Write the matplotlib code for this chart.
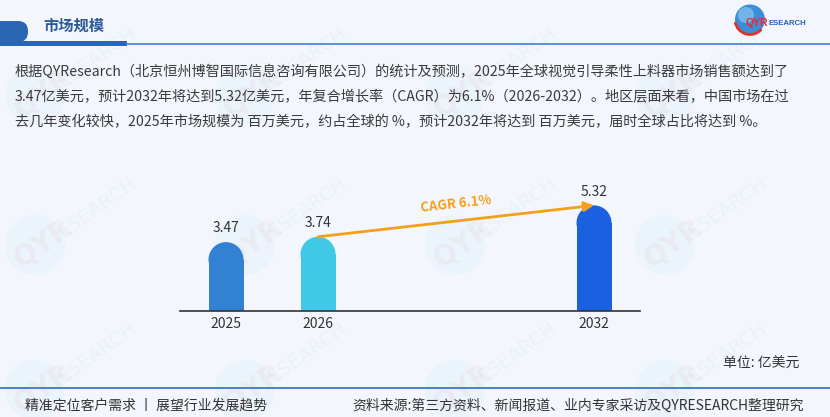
import numpy as np
import matplotlib
matplotlib.use('Agg')
import matplotlib.pyplot as plt
from matplotlib import patches

plt.rcParams['font.family'] = ['Noto Sans CJK SC', 'DejaVu Sans']

# chart data
categories = ['2025', '2026', '', '', '2032']
values = [3.47, 3.74, np.nan, np.nan, 5.32]
bar_colors = ['#3381d3', '#40c9e7', 'none', 'none', '#1a60e0']
cagr = 6.1
cagr_from = '2026'
cagr_to = '2032'
unit = '单位: 亿美元'

title = '市场规模'
para = [
    '根据QYResearch（北京恒州博智国际信息咨询有限公司）的统计及预测，2025年全球视觉引导柔性上料器市场销售额达到了',
    f'{values[0]}亿美元，预计2032年将达到{values[-1]}亿美元，年复合增长率（CAGR）为{cagr}%（2026-2032）。地区层面来看，中国市场在过',
    '去几年变化较快，2025年市场规模为 百万美元，约占全球的 %，预计2032年将达到 百万美元，届时全球占比将达到 %。',
]
footer_left = '精准定位客户需求 丨 展望行业发展趋势'
footer_right = '资料来源:第三方资料、新闻报道、业内专家采访及QYRESEARCH整理研究'

W, H = 830, 417
BG = '#f3f7fd'

fig = plt.figure(figsize=(W / 100, H / 100), dpi=100)
fig.patch.set_facecolor(BG)

# background axes in pixel coordinates (y down)
bg = fig.add_axes([0, 0, 1, 1], zorder=0)
bg.set_xlim(0, W)
bg.set_ylim(H, 0)
bg.axis('off')

# faint watermarks
for wy in [95, 245, 390]:
    for wx in [35, 245, 455, 665]:
        bg.add_patch(patches.Circle((wx, wy), 30, color='#d9eaf8', alpha=0.3, lw=0))
        bg.text(wx + 8, wy - 2, 'QYR', color='#e05050', alpha=0.05, fontsize=20,
                fontweight='bold', rotation=35, ha='center', va='center', family='DejaVu Sans')
        bg.text(wx + 62, wy - 38, 'ESEARCH', color='#4a90d0', alpha=0.06, fontsize=14,
                rotation=35, ha='center', va='center', family='DejaVu Sans')

# header
bg.add_patch(patches.FancyBboxPatch((-20, 21), 48, 21, boxstyle='round,pad=0,rounding_size=10',
                                    color='#2b66b5', lw=0))
bg.add_patch(patches.Rectangle((0, 41), 127, 4.5, color='#2b66b5', lw=0))
bg.plot([127, W], [43.5, 43.5], color='#4a8ad6', lw=1.3)
bg.text(43, 26, title, color='#2c5a98', fontsize=11, fontweight='bold', va='center', ha='left')

# logo
bg.add_patch(patches.Circle((750, 19.5), 15, color='#3b8fd9', lw=0))
bg.add_patch(patches.Circle((746, 15), 8, color='#8cc4ee', lw=0, alpha=0.7))
bg.add_patch(patches.Arc((750, 19.5), 30, 30, theta1=40, theta2=170, color='#e0302a', lw=2))
bg.text(746, 23, 'QYR', color='#e0302a', fontsize=7.5, fontweight='bold', va='center',
        ha='left', family='Liberation Sans')
bg.text(768, 23.5, 'ESEARCH', color='#2060b0', fontsize=5.6, fontweight='bold', va='center',
        ha='left', family='Liberation Sans')

# paragraph
for i, line in enumerate(para):
    bg.text(15, 72 + i * 25, line, color='#3a3a3a', fontsize=10.2, va='center', ha='left')

# unit and footer
bg.text(799, 364, unit, color='#333333', fontsize=10, va='center', ha='right')
bg.plot([0, W], [388, 388], color='#3a78c8', lw=1.3)
bg.text(25, 406, footer_left, color='#333333', fontsize=10, va='center', ha='left')
bg.text(804, 406, footer_right, color='#333333', fontsize=10, va='center', ha='right')

# chart axes
px_per_unit = 19.85
x0, x1, y_base, y_top = 180, 640, 311, 180
ax = fig.add_axes([x0 / W, 1 - y_base / H, (x1 - x0) / W, (y_base - y_top) / H], zorder=2)
ax.patch.set_alpha(0)
ax.set_xlim(-0.5, len(categories) - 0.5)
ax.set_ylim(0, (y_base - y_top) / px_per_unit)

bw = 35 / ((x1 - x0) / len(categories))
ry = 17.5 / px_per_unit
for i, (v, c) in enumerate(zip(values, bar_colors)):
    if np.isnan(v):
        continue
    ax.bar(i, v - ry, width=bw, color=c, lw=0)
    ax.add_patch(patches.Ellipse((i, v - ry), bw, 2 * ry, color=c, lw=0))
    ax.annotate(f'{v:.2f}', (i, v), xytext=(0, 10), textcoords='offset points',
                ha='center', va='center', fontsize=10, color='#333333')

ax.set_xticks(range(len(categories)))
ax.set_xticklabels(categories, fontsize=10, color='#333333')
ax.tick_params(axis='x', length=0, pad=4)
ax.set_yticks([])
for s in ['top', 'left', 'right']:
    ax.spines[s].set_visible(False)
ax.spines['bottom'].set_color('#333333')
ax.spines['bottom'].set_linewidth(1.2)

# CAGR arrow
ia, ib = categories.index(cagr_from), categories.index(cagr_to)
va_, vb_ = values[ia], values[ib]
ax.annotate('', xy=(ib, vb_), xytext=(ia, va_),
            arrowprops=dict(arrowstyle='-|>', color='#f5a01a', lw=2, mutation_scale=14,
                            shrinkA=0, shrinkB=0))
pa = ax.transData.transform((ia, va_))
pb = ax.transData.transform((ib, vb_))
ang = np.degrees(np.arctan2(pb[1] - pa[1], pb[0] - pa[0]))
ax.annotate(f'CAGR {cagr}%', ((ia + ib) / 2, (va_ + vb_) / 2), xytext=(0, 12),
            textcoords='offset points', ha='center', va='center', rotation=ang,
            fontsize=9.5, fontweight='bold', color='#f5a01a')

fig.savefig('out.png', dpi=100, facecolor=BG)
